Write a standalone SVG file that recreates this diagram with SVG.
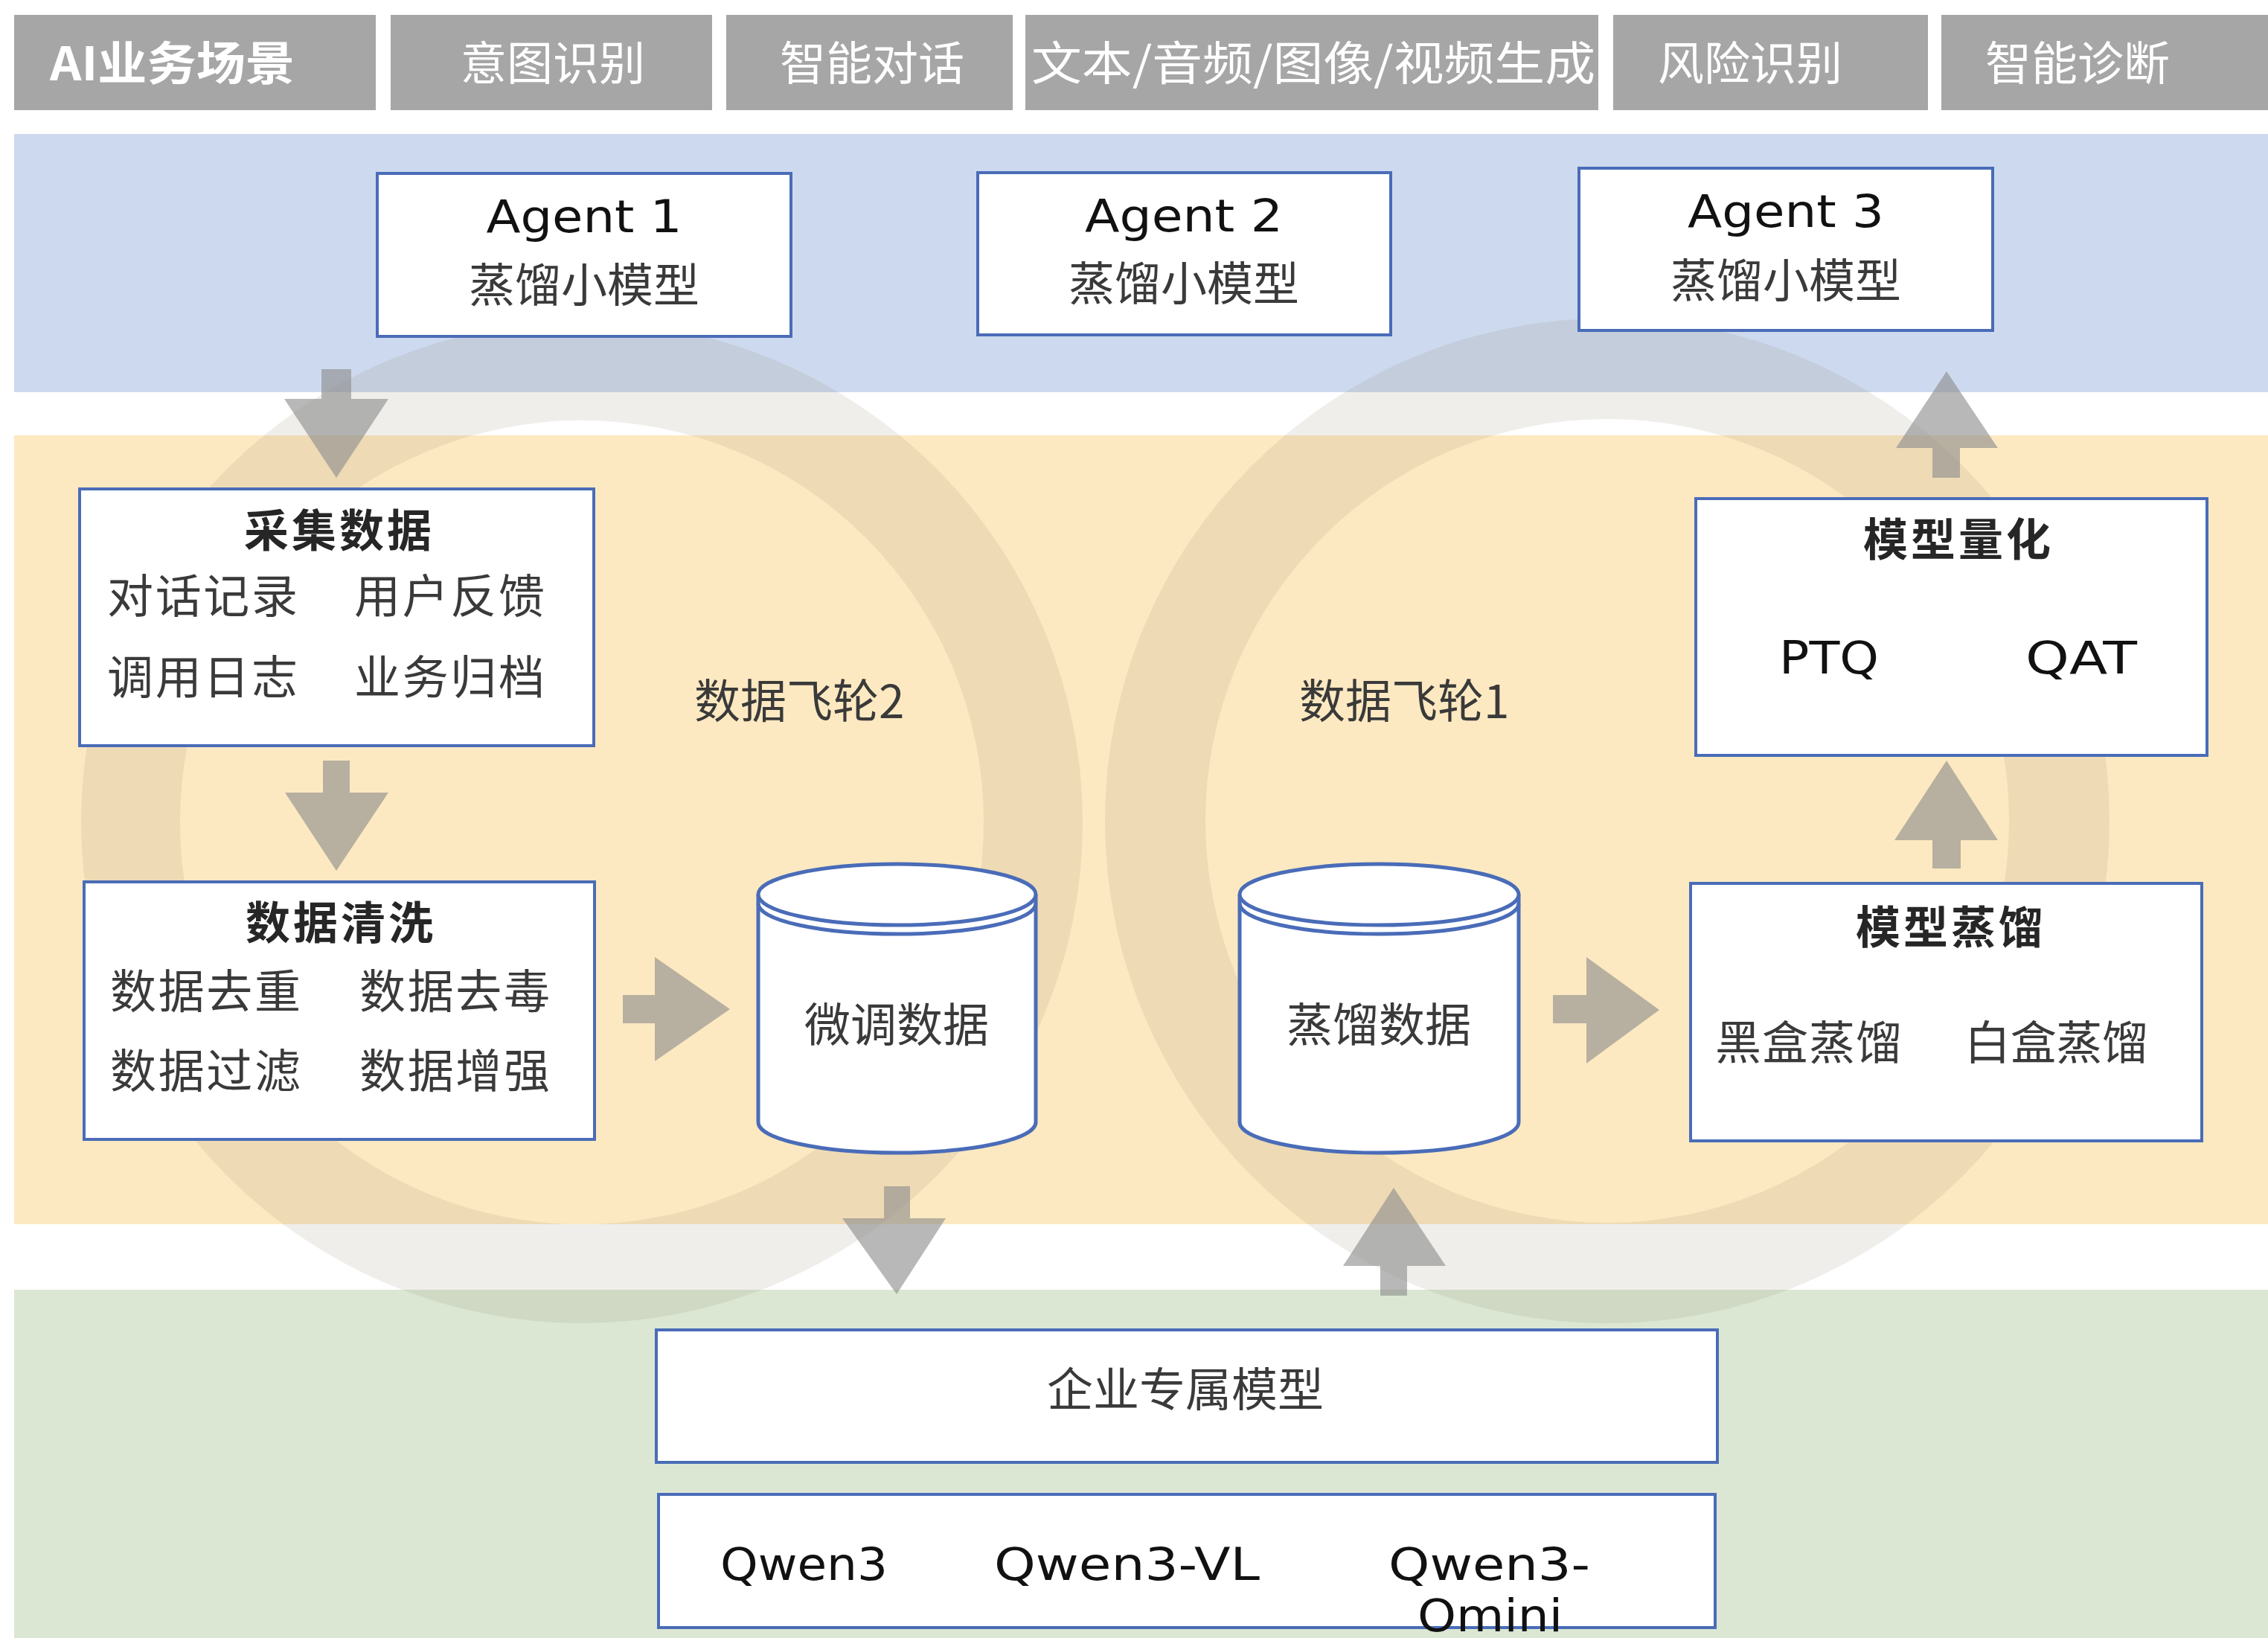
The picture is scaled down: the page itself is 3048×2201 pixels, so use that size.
<svg xmlns="http://www.w3.org/2000/svg" width="3048" height="2201" viewBox="0 0 3048 2201">
<style>
.hdr{fill:#a6a6a6}
.ht{font-family:"Noto Sans CJK SC","Noto Sans",sans-serif;font-size:62px;fill:#ffffff;text-anchor:middle}
.box{fill:#ffffff;stroke:#4a6cb8;stroke-width:4}
.cyl{fill:#ffffff;stroke:#4a6cb8;stroke-width:5}
.rim{fill:none;stroke:#4a6cb8;stroke-width:5}
.ring{fill:#8a7c62;fill-opacity:0.13;fill-rule:evenodd}
.arrow{fill:#8c8c8c;fill-opacity:0.62}
.cn{font-family:"Noto Sans CJK SC",sans-serif;font-size:62px;fill:#3a3a3a}
.ttl{font-family:"Noto Sans CJK SC",sans-serif;font-size:60px;font-weight:bold;fill:#262626;text-anchor:middle}
.mid{text-anchor:middle}
.lat{font-family:"DejaVu Sans","Liberation Sans",sans-serif;font-size:60px;fill:#111111}
</style>
<rect x="0" y="0" width="3048" height="2201" fill="#ffffff"/>
<g id="bands">
<rect x="19" y="180" width="3029" height="347" fill="#cdd9ee"/>
<rect x="19" y="585" width="3029" height="1060" fill="#fde9c1"/>
<rect x="19" y="1733" width="3029" height="468" fill="#dbe7d3"/>
</g>
<g id="header">
<rect class="hdr" x="19" y="20" width="486" height="128"/>
<rect class="hdr" x="525" y="20" width="432" height="128"/>
<rect class="hdr" x="976" y="20" width="385" height="128"/>
<rect class="hdr" x="1378" y="20" width="770" height="128"/>
<rect class="hdr" x="2168" y="20" width="423" height="128"/>
<rect class="hdr" x="2609" y="20" width="439" height="128"/>
<text class="ht" x="67" y="108" style="text-anchor:start;font-weight:bold" textLength="329" lengthAdjust="spacingAndGlyphs">AI业务场景</text>
<text class="ht" x="743" y="108">意图识别</text>
<text class="ht" x="1172" y="108">智能对话</text>
<text class="ht" x="1765" y="108" textLength="758" lengthAdjust="spacingAndGlyphs">文本/音频/图像/视频生成</text>
<text class="ht" x="2352" y="108">风险识别</text>
<text class="ht" x="2792" y="108">智能诊断</text>
</g>
<g id="flywheels">
<path class="ring" d="M109,1105 a673,673 0 1 0 1346,0 a673,673 0 1 0 -1346,0 Z M242,1105 a540,540 0 1 0 1080,0 a540,540 0 1 0 -1080,0 Z"/>
<path class="ring" d="M1485,1103 a675,675 0 1 0 1350,0 a675,675 0 1 0 -1350,0 Z M1620,1103 a540,540 0 1 0 1080,0 a540,540 0 1 0 -1080,0 Z"/>
<text id="label-flywheel2" class="cn" x="933" y="965">数据飞轮2</text>
<text id="label-flywheel1" class="cn" x="1746" y="965">数据飞轮1</text>
</g>
<g id="agent1">
<rect class="box" x="507" y="233" width="556" height="219"/>
<text class="lat mid" x="785" y="312" textLength="263" lengthAdjust="spacingAndGlyphs">Agent 1</text>
<text class="cn mid" x="785" y="406">蒸馏小模型</text>
</g>
<g id="agent2">
<rect class="box" x="1314" y="232" width="555" height="218"/>
<text class="lat mid" x="1591" y="311" textLength="266" lengthAdjust="spacingAndGlyphs">Agent 2</text>
<text class="cn mid" x="1591" y="404">蒸馏小模型</text>
</g>
<g id="agent3">
<rect class="box" x="2122" y="226" width="556" height="218"/>
<text class="lat mid" x="2400" y="305" textLength="264" lengthAdjust="spacingAndGlyphs">Agent 3</text>
<text class="cn mid" x="2400" y="400">蒸馏小模型</text>
</g>
<g id="collect">
<rect class="box" x="107" y="657" width="691" height="345"/>
<text class="ttl" x="456" y="735" letter-spacing="4">采集数据</text>
<text class="cn" x="144" y="824" textLength="256">对话记录</text>
<text class="cn" x="476" y="824" textLength="256">用户反馈</text>
<text class="cn" x="144" y="933" textLength="256">调用日志</text>
<text class="cn" x="476" y="933" textLength="256">业务归档</text>
</g>
<g id="clean">
<rect class="box" x="113" y="1185" width="686" height="346"/>
<text class="ttl" x="458" y="1262" letter-spacing="4">数据清洗</text>
<text class="cn" x="148" y="1355" textLength="256">数据去重</text>
<text class="cn" x="483" y="1355" textLength="256">数据去毒</text>
<text class="cn" x="148" y="1462" textLength="256">数据过滤</text>
<text class="cn" x="483" y="1462" textLength="256">数据增强</text>
</g>
<g id="finetune-data">
<path class="cyl" d="M1019,1202 V1508 A186.5,41 0 0 0 1392,1508 V1202"/>
<ellipse class="cyl" cx="1205.5" cy="1202" rx="186.5" ry="41"/>
<path class="rim" d="M1019,1214 A186.5,41 0 0 0 1392,1214"/>
<text class="cn mid" x="1205" y="1400">微调数据</text>
</g>
<g id="distill-data">
<path class="cyl" d="M1666,1202 V1508 A187.5,41 0 0 0 2041,1508 V1202"/>
<ellipse class="cyl" cx="1853.5" cy="1202" rx="187.5" ry="41"/>
<path class="rim" d="M1666,1214 A187.5,41 0 0 0 2041,1214"/>
<text class="cn mid" x="1853" y="1400">蒸馏数据</text>
</g>
<g id="distill">
<rect class="box" x="2272" y="1187" width="687" height="346"/>
<text class="ttl" x="2622" y="1268" letter-spacing="4">模型蒸馏</text>
<text class="cn" x="2305" y="1424" textLength="251">黑盒蒸馏</text>
<text class="cn" x="2640" y="1424" textLength="247">白盒蒸馏</text>
</g>
<g id="quantize">
<rect class="box" x="2279" y="670" width="687" height="345"/>
<text class="ttl" x="2632" y="747" letter-spacing="4">模型量化</text>
<text class="lat" x="2391" y="905" textLength="134" lengthAdjust="spacingAndGlyphs">PTQ</text>
<text class="lat" x="2722" y="905" textLength="150" lengthAdjust="spacingAndGlyphs">QAT</text>
</g>
<g id="enterprise-model">
<rect class="box" x="882" y="1787" width="1426" height="178"/>
<text class="cn mid" x="1593" y="1890">企业专属模型</text>
</g>
<g id="base-models">
<rect class="box" x="885" y="2008" width="1420" height="179"/>
<text class="lat" x="968" y="2123" textLength="225" lengthAdjust="spacingAndGlyphs">Qwen3</text>
<text class="lat" x="1336" y="2123" textLength="357" lengthAdjust="spacingAndGlyphs">Qwen3-VL</text>
<text class="lat" x="1866" y="2123" textLength="271" lengthAdjust="spacingAndGlyphs">Qwen3-</text>
<text class="lat" x="1905" y="2192" textLength="195" lengthAdjust="spacingAndGlyphs">Omini</text>
</g>
<g id="connectors">
<polygon class="arrow" points="432,496 472,496 472,536 522,536 452,642 382,536 432,536"/>
<polygon class="arrow" points="434,1022 470,1022 470,1065 522,1065 452,1170 383,1065 434,1065"/>
<polygon class="arrow" points="837,1337 880,1337 880,1286 981,1356 880,1426 880,1375 837,1375"/>
<polygon class="arrow" points="1188,1594 1223,1594 1223,1637 1271,1637 1205,1739 1132,1637 1188,1637"/>
<polygon class="arrow" points="1855,1741 1891,1741 1891,1701 1943,1701 1873,1596 1805,1701 1855,1701"/>
<polygon class="arrow" points="2087,1337 2132,1337 2132,1286 2230,1357 2132,1429 2132,1375 2087,1375"/>
<polygon class="arrow" points="2597,1167 2635,1167 2635,1129 2685,1129 2616,1022 2546,1129 2597,1129"/>
<polygon class="arrow" points="2597,642 2634,642 2634,602 2685,602 2616,499 2548,602 2597,602"/>
</g>
</svg>
